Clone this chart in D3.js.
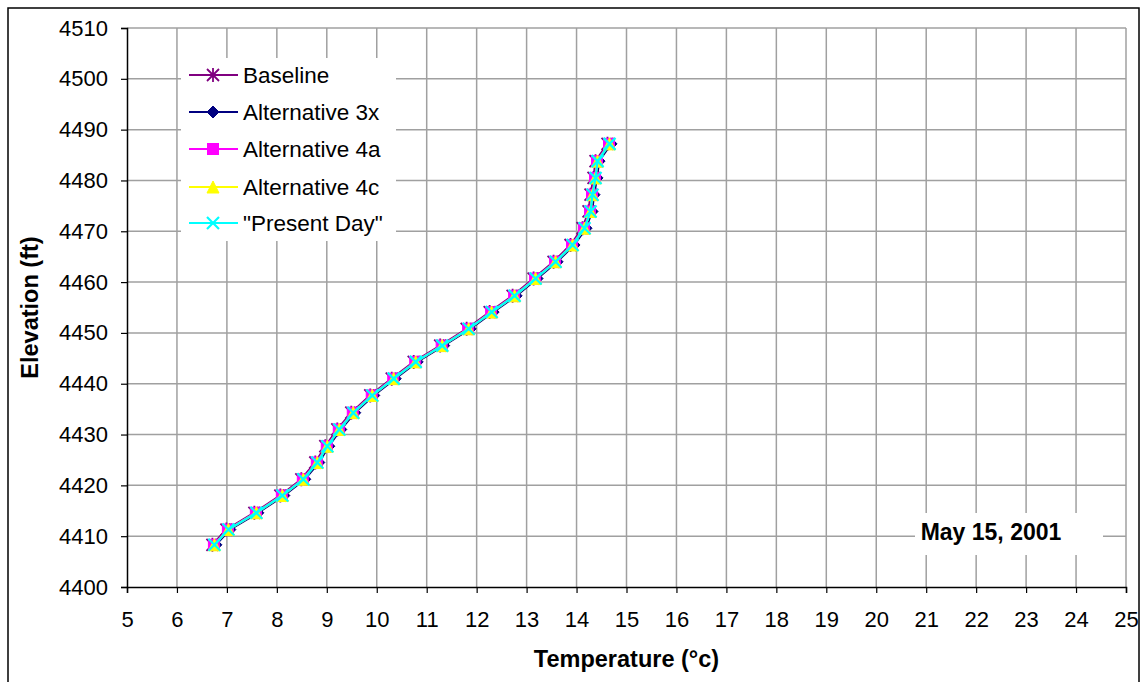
<!DOCTYPE html>
<html><head><meta charset="utf-8">
<script src="https://cdn.jsdelivr.net/npm/d3@7/dist/d3.min.js"></script>
<style>body{margin:0;background:#fff}svg{display:block}text{font-family:"Liberation Sans",Arial,sans-serif}</style>
</head><body>
<svg id="c" width="1143" height="682"></svg>
<script>
const xTicks = [5,6,7,8,9,10,11,12,13,14,15,16,17,18,19,20,21,22,23,24,25];
const yTicks = [4400,4410,4420,4430,4440,4450,4460,4470,4480,4490,4500,4510];
const elevation = [4408.3,4411.3,4414.6,4418.0,4421.2,4424.5,4427.7,4431.0,4434.3,4437.7,4441.0,4444.3,4447.5,4450.8,4454.1,4457.3,4460.7,4464.0,4467.3,4470.6,4473.9,4477.2,4480.5,4483.8,4487.2];
const baseline = [6.71,6.99,7.55,8.07,8.49,8.77,8.97,9.21,9.49,9.87,10.30,10.74,11.27,11.80,12.26,12.72,13.14,13.54,13.88,14.12,14.24,14.28,14.34,14.38,14.62];
const alt3x = [6.78,7.06,7.62,8.14,8.56,8.84,9.04,9.28,9.56,9.94,10.37,10.81,11.34,11.87,12.33,12.79,13.21,13.61,13.95,14.19,14.31,14.35,14.41,14.45,14.69];
const alt4a = [6.74,7.02,7.58,8.10,8.52,8.80,9.00,9.24,9.52,9.90,10.33,10.77,11.30,11.83,12.29,12.75,13.17,13.57,13.91,14.15,14.27,14.31,14.37,14.41,14.65];
const alt4c = [6.75,7.03,7.59,8.11,8.53,8.81,9.01,9.25,9.53,9.91,10.34,10.78,11.31,11.84,12.30,12.76,13.18,13.58,13.92,14.16,14.28,14.32,14.38,14.42,14.66];
const presentDay = [6.75,7.03,7.59,8.11,8.53,8.81,9.01,9.25,9.53,9.91,10.34,10.78,11.31,11.84,12.30,12.76,13.18,13.58,13.92,14.16,14.28,14.32,14.38,14.42,14.66];
const seriesNames = ["Baseline","Alternative 3x","Alternative 4a","Alternative 4c","\"Present Day\""];
const seriesColors = ["#800080","#000080","#FF00FF","#FFFF00","#00FFFF"];
const seriesMarkers = ["asterisk","diamond","square","triangle","x"];
const seriesValues = [baseline, alt3x, alt4a, alt4c, presentDay];
const dateLabel = "May 15, 2001";

const svg = d3.select("#c");
const L = 127, R = 1126, T = 28, B = 587;
const x = d3.scaleLinear().domain([5,25]).range([L,R]);
const y = d3.scaleLinear().domain([4400,4510]).range([B,T]);

// outer border
svg.append("rect").attr("x",8).attr("y",8).attr("width",1131).attr("height",700)
  .attr("fill","#fff").attr("stroke","#000").attr("stroke-width",1.5);

// gridlines
const g = svg.append("g");
g.selectAll(".vg").data(xTicks.slice(1)).join("line")
  .attr("x1",d=>x(d)).attr("x2",d=>x(d)).attr("y1",T).attr("y2",B)
  .attr("stroke","#a0a0a0").attr("stroke-width",1.5);
g.selectAll(".hg").data(yTicks.slice(1)).join("line")
  .attr("x1",L).attr("x2",R).attr("y1",d=>y(d)).attr("y2",d=>y(d))
  .attr("stroke","#a0a0a0").attr("stroke-width",1.5);

// axes
const xAxis = d3.axisBottom(x).tickValues(xTicks).tickSize(6).tickPadding(18).tickFormat(d3.format("d"));
const yAxis = d3.axisLeft(y).tickValues(yTicks).tickSize(6).tickPadding(13).tickFormat(d3.format("d"));
const gx = svg.append("g").attr("transform",`translate(0,${B})`).call(xAxis);
const gy = svg.append("g").attr("transform",`translate(${L},0)`).call(yAxis);
[gx,gy].forEach(a=>{
  a.select(".domain").attr("stroke","#000").attr("stroke-width",1.5);
  a.selectAll(".tick line").attr("stroke","#000").attr("stroke-width",1.2);
  a.selectAll(".tick text").attr("font-size",22).attr("fill","#000").attr("font-family","Liberation Sans, Arial, sans-serif");
});

// axis titles
svg.append("text").attr("x",(L+R)/2).attr("y",667).attr("text-anchor","middle")
  .attr("font-size",23.5).attr("font-weight","bold").text("Temperature (°c)");
svg.append("text").attr("transform",`translate(38,${(T+B)/2}) rotate(-90)`).attr("text-anchor","middle")
  .attr("font-size",23.5).attr("font-weight","bold").text("Elevation (ft)");

// marker drawing
function marker(sel, type, color){
  const s = 6;
  if(type==="asterisk"){
    sel.append("path").attr("d",`M${-s},${-s}L${s},${s}M${-s},${s}L${s},${-s}M0,${-s-1}L0,${s+1}`)
      .attr("stroke",color).attr("stroke-width",1.8).attr("fill","none");
  } else if(type==="diamond"){
    sel.append("path").attr("d",`M0,${-s}L${s},0L0,${s}L${-s},0Z`).attr("fill",color).attr("stroke",color);
  } else if(type==="square"){
    sel.append("rect").attr("x",-s+0.5).attr("y",-s+0.5).attr("width",2*s-1).attr("height",2*s-1).attr("fill",color).attr("stroke",color);
  } else if(type==="triangle"){
    sel.append("path").attr("d",`M0,${-s}L${s},${s}L${-s},${s}Z`).attr("fill",color).attr("stroke",color);
  } else if(type==="x"){
    sel.append("path").attr("d",`M${-s},${-s}L${s},${s}M${-s},${s}L${s},${-s}`)
      .attr("stroke",color).attr("stroke-width",2.2).attr("fill","none");
  }
}

// series
const line = d3.line().x(d=>x(d[0])).y(d=>y(d[1]));
seriesValues.forEach((vals,i)=>{
  const pts = vals.map((v,j)=>[v, elevation[j]]);
  const sg = svg.append("g");
  sg.append("path").datum(pts).attr("d",line).attr("fill","none")
    .attr("stroke",seriesColors[i]).attr("stroke-width",2.2);
  sg.selectAll("g.m").data(pts).join("g").attr("class","m")
    .attr("transform",d=>`translate(${x(d[0])},${y(d[1])})`)
    .each(function(){ marker(d3.select(this), seriesMarkers[i], seriesColors[i]); });
});

// legend
const lg = svg.append("g");
lg.append("rect").attr("x",181).attr("y",58).attr("width",215).attr("height",183).attr("fill","#fff");
const ly = [75,112,149,187,223];
seriesNames.forEach((n,i)=>{
  lg.append("line").attr("x1",189).attr("x2",238).attr("y1",ly[i]).attr("y2",ly[i])
    .attr("stroke",seriesColors[i]).attr("stroke-width",2);
  const mg = lg.append("g").attr("transform",`translate(213,${ly[i]})`);
  marker(mg, seriesMarkers[i], seriesColors[i]);
  lg.append("text").attr("x",243).attr("y",ly[i]+8).attr("font-size",22.5).text(n);
});

// date label
svg.append("rect").attr("x",915).attr("y",513).attr("width",188).attr("height",42).attr("fill","#fff");
svg.append("text").attr("x",991).attr("y",540).attr("text-anchor","middle")
  .attr("font-size",23).attr("font-weight","bold").text(dateLabel);
</script>
</body></html>
